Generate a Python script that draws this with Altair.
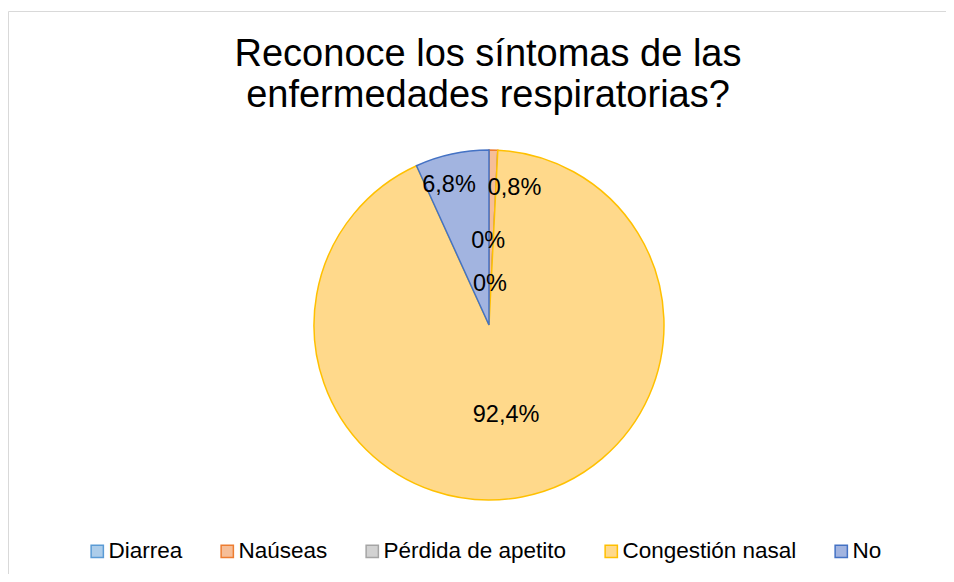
import altair as alt
import pandas as pd

categories = ["Diarrea", "Naúseas", "Pérdida de apetito", "Congestión nasal", "No"]
values = [0, 0.8, 0, 92.4, 6.8]
labels = ["0%", "0,8%", "0%", "92,4%", "6,8%"]
fills = ["#ADCDEA", "#F6BE98", "#D2D2D2", "#FFD98B", "#A2B4E0"]
strokes = ["#5B9BD5", "#ED7D31", "#A5A5A5", "#FFC000", "#4472C4"]
title_lines = ["Reconoce los síntomas de las", "enfermedades respiratorias?"]

FONT = "Liberation Sans"
W, H = 938, 566
CX, CY, R = 481, 317, 175

df = pd.DataFrame({"categoria": categories, "valor": values,
                   "etiqueta": labels, "orden": list(range(len(categories)))})
one = pd.DataFrame({"k": [0]})

leg = alt.Legend(title=None, orient="none", direction="horizontal", columns=5,
                 legendX=78, legendY=532, symbolType="square", symbolSize=150,
                 symbolStrokeWidth=1.5, labelFontSize=22.5, labelFont=FONT,
                 labelColor="#000000", labelOffset=0, labelLimit=500,
                 columnPadding=33, padding=0)

pie = alt.Chart(df).mark_arc(radius=R, strokeWidth=1.5).encode(
    theta=alt.Theta("valor:Q", stack=True, scale=alt.Scale(domain=[0, 100])),
    fill=alt.Fill("categoria:N", scale=alt.Scale(domain=categories, range=fills), legend=leg),
    stroke=alt.Stroke("categoria:N", scale=alt.Scale(domain=categories, range=strokes), legend=leg),
    order=alt.Order("orden:Q"),
    x=alt.value(CX), y=alt.value(CY),
)

# label placement styles (radius, dx, dy) per category
label_style = {
    "Diarrea": (42, 1, 1),
    "Naúseas": (140, 22, 3),
    "Pérdida de apetito": (85, -5, 1),
    "Congestión nasal": (91, 0, 1),
    "No": (146, -9, 3),
}

tbase = alt.Chart(df).transform_window(
    cum="sum(valor)", sort=[alt.SortField("orden")]
).transform_calculate(mid="datum.cum - datum.valor / 2")

label_layers = []
for cat in categories:
    r, dx, dy = label_style[cat]
    label_layers.append(
        tbase.transform_filter(alt.datum.categoria == cat).mark_text(
            radius=r, dx=dx, dy=dy, fontSize=23.5, font=FONT, color="#000000",
            align="center", baseline="middle"
        ).encode(
            theta=alt.Theta("mid:Q", scale=alt.Scale(domain=[0, 100])),
            text="etiqueta:N",
            x=alt.value(CX), y=alt.value(CY),
        )
    )

title = alt.Chart(one).mark_text(
    text=title_lines, fontSize=38, font=FONT, color="#000000", align="center",
    baseline="alphabetic", lineHeight=41
).encode(x=alt.value(480), y=alt.value(58))

border_left = alt.Chart(one).mark_rule(color="#D9D9D9", strokeWidth=1).encode(
    x=alt.value(0.5), y=alt.value(3.5), y2=alt.value(H + 20))
border_top = alt.Chart(one).mark_rule(color="#D9D9D9", strokeWidth=1).encode(
    x=alt.value(0.5), x2=alt.value(W + 20), y=alt.value(3.5))

chart = alt.layer(border_left, border_top, pie, *label_layers, title).resolve_scale(
    theta="independent"
).properties(
    width=W, height=H, autosize=alt.AutoSizeParams(type="none"), padding=0,
    background="white"
).configure_view(stroke=None)

chart.save("out.html", embed_options={"renderer": "svg", "actions": False})
